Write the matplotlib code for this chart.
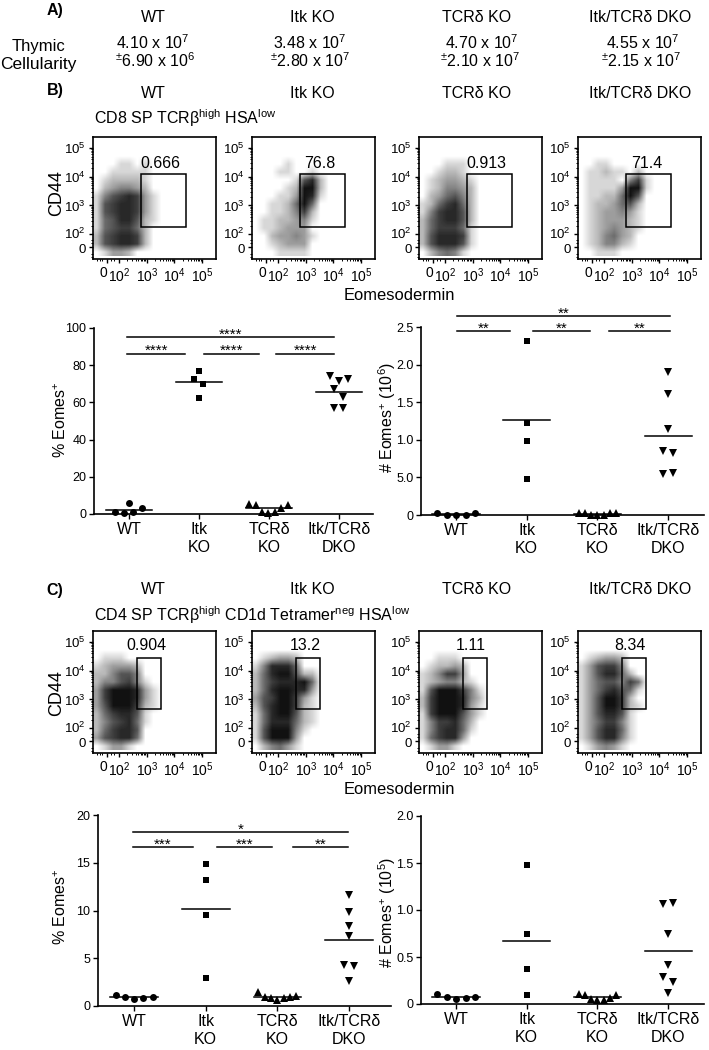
"""Thymic cellularity, Eomes flow plots and summary dot plots, panels A to C."""

import numpy as np
import matplotlib
matplotlib.use('Agg')
from matplotlib import pyplot as plt
from matplotlib.patches import Rectangle
from matplotlib.transforms import ScaledTranslation

plt.rcParams['font.family'] = ['Liberation Sans', 'DejaVu Sans']
plt.rcParams['mathtext.fontset'] = 'custom'
plt.rcParams['mathtext.rm'] = 'Liberation Sans'
plt.rcParams['mathtext.it'] = 'Liberation Sans'
plt.rcParams['mathtext.bf'] = 'Liberation Sans'
plt.rcParams['mathtext.default'] = 'regular'

W, H = 709, 1050

genotypes = ['WT', 'Itk KO', 'TCRδ KO', 'Itk/TCRδ DKO']
group_labels = ['WT', 'Itk\nKO', 'TCRδ\nKO', 'Itk/TCRδ\nDKO']
cellularity_mean = ['4.10 x 10$^{7}$', '3.48 x 10$^{7}$', '4.70 x 10$^{7}$', '4.55 x 10$^{7}$']
cellularity_sd = ['$^{\\pm}$6.90 x 10$^{6}$', '$^{\\pm}$2.80 x 10$^{7}$',
                  '$^{\\pm}$2.10 x 10$^{7}$', '$^{\\pm}$2.15 x 10$^{7}$']

# flow plots: darkness 0-9 of the dot cloud, read cell by cell (top row first)
cd8_wt = ['000000000000', '000000000000', '000000000000', '000110100000', '001111100000',
          '012222100000', '023443200000', '146787310000', '167887310000', '167887310000',
          '156886210000', '156775200000', '267887200000', '267887200000', '013320000000']
cd8_itk = ['000000000000', '000000000000', '000000000000', '000010000000', '000110010000',
           '000001682000', '000012992000', '000113981000', '001125950000', '001124720000',
           '011223410000', '011233300000', '002334310000', '001233300000', '000111100000']
cd8_tcr = ['000000000000', '000000000000', '000000000000', '000111000000', '001221000000',
           '012332100000', '012443200000', '023564200000', '125785200000', '147886200000',
           '257886200000', '257775100000', '268887100000', '268886100000', '024541000000']
cd8_dko = ['000000000000', '000000000000', '000000000000', '001100000000', '011211020000',
           '011110471000', '011113991000', '011225960000', '012235620000', '012334310000',
           '012333210000', '012343210000', '012453200000', '012442100000', '001110000000']
cd4_wt = ['000000000000', '000000000000', '000000000000', '011100000000', '123332000000',
          '224664000000', '244674100000', '379998310000', '379998310000', '369997210000',
          '257886100000', '246785100000', '257886000000', '367885000000', '013310000000']
cd4_itk = ['000000000000', '000000000000', '000000000000', '012332000000', '148885000000',
           '258996220000', '257888950000', '258998830000', '367997310000', '268997210000',
           '158996210000', '158885210000', '169994100000', '169993000000', '024531000000']
cd4_tcr = ['000000000000', '000000000000', '000000000000', '001110000000', '012232000000',
           '124773000000', '123442100000', '169997410000', '279998420000', '279998310000',
           '179996310000', '147785200000', '147885100000', '157883000000', '013310000000']
cd4_dko = ['000000000000', '000000000000', '000000000000', '012332000000', '136774000000',
           '136885200000', '135664750000', '135786510000', '136997200000', '136997210000',
           '136886100000', '135774100000', '136885100000', '136884100000', '013431000000']

gate_cd8 = ['0.666', '76.8', '0.913', '71.4']
gate_cd4 = ['0.904', '13.2', '1.11', '8.34']

# dot plots: values per genotype, then sideways offset of each dot, then mean
pct_cd8 = [[6.1, 0.9, 0.7, 0.9, 3.0],
           [76.7, 72.6, 70.0, 62.4],
           [5.2, 4.8, 1.2, 0.4, 1.0, 3.4, 4.8],
           [74.0, 71.5, 72.6, 67.2, 62.8, 56.9, 57.0]]
pct_cd8_dx = [[0, -.195, -.067, .062, .19],
              [0, -.067, .062, 0],
              [-.28, -.186, -.095, -.01, .086, .176, .267],
              [-.133, 0, .124, -.067, .062, -.067, .062]]
pct_cd8_mean = [2.15, 70.7, 3.4, 65.8]

num_cd8 = [[.03, .005, .005, .005, .02],
           [2.31, 1.23, 0.99, 0.48],
           [.03, .03, 0, 0, 0, .02, .03],
           [1.907, 1.606, 1.14, .85, .83, .54, .553]]
num_cd8_dx = [[-.264, -.132, 0, .137, .274],
              [0, 0, 0, 0],
              [-.264, -.179, -.09, 0, .09, .175, .264],
              [0, 0, 0, -.066, .066, -.066, .066]]
num_cd8_mean = [.01, 1.257, .013, 1.053]

pct_cd4 = [[1.12, .91, .73, .84, .98],
           [14.9, 13.2, 9.5, 2.94],
           [1.43, .98, .84, .59, .8, .91, 1.01],
           [11.6, 9.86, 8.36, 7.34, 4.34, 4.2, 2.66]]
pct_cd4_dx = [[-.256, -.126, 0, .13, .26],
              [0, 0, 0, 0],
              [-.265, -.177, -.088, 0, .088, .177, .265],
              [0, 0, 0, 0, -.065, .065, 0]]
pct_cd4_mean = [.91, 10.17, .98, 6.89]

num_cd4 = [[.103, .078, .053, .06, .078],
           [1.48, .745, .376, .092],
           [.106, .1, .05, .04, .043, .064, .096],
           [1.06, 1.07, .745, .415, .29, .234, .12]]
num_cd4_dx = [[-.264, -.132, 0, .137, .274],
              [0, 0, 0, 0],
              [-.264, -.179, -.09, 0, .09, .175, .264],
              [-.066, .066, 0, 0, -.066, .066, 0]]
num_cd4_mean = [.078, .674, .078, .56]

# significance bars: from, to, height
sig_pct_cd8 = [(-.024, 2.929, 95, '****'), (-.024, .8, 86.2, '****'),
               (1.067, 1.857, 86.2, '****'), (2.105, 2.929, 86.2, '****')]
sig_num_cd8 = [(.01, 3.03, 2.646, '**'), (.01, .77, 2.447, '**'),
               (1.085, 1.89, 2.447, '**'), (2.16, 3.03, 2.447, '**')]
sig_pct_cd4 = [(-.014, 2.98, 18.18, '*'), (-.014, .823, 16.6, '***'),
               (1.158, 1.926, 16.6, '***'), (2.223, 2.98, 16.6, '**')]

markers = ['o', 's', '^', 'v']
marker_sizes = [5, 5, 5.6, 5.6]
fig = plt.figure(figsize=(W / 100, H / 100), dpi=100)


def put(x, y, s, size=11.5, **kw):
    kw.setdefault('ha', 'center')
    kw.setdefault('va', 'center')
    fig.text(x / W, 1 - y / H, s, fontsize=size, **kw)


def axes_px(left, top, right, bottom):
    return fig.add_axes([left / W, 1 - bottom / H, (right - left) / W, (bottom - top) / H])


def nudge(label, dx, dy):
    label.set_transform(label.get_transform()
                        + ScaledTranslation(dx / 100, dy / 100, fig.dpi_scale_trans))


def flow(left, top, cells, gate, label):
    ax = axes_px(left, top, left + 123, top + 122)
    grid = np.array([[int(c) for c in row] for row in cells], dtype=float)
    ax.imshow((grid / 9) ** .8, cmap='gray_r', vmin=0, vmax=1.08, interpolation='bilinear',
              aspect='auto', extent=[1.06, 1.06 + 12 * 8 / 27.7, 5.38 - 15 * 8 / 29, 5.38],
              zorder=1)
    ax.set_xlim(1.06, 5.5)
    ax.set_ylim(1.14, 5.38)
    ax.add_patch(Rectangle((gate[0], gate[2]), gate[1] - gate[0], gate[3] - gate[2],
                           fill=False, ec='k', lw=1.1, zorder=3))
    minor = [d + np.log10(k) for d in [2, 3, 4] for k in range(2, 10)]
    ax.set_xticks([1.57, 2, 3, 4, 5])
    ax.set_xticklabels(['0', '$10^{2}$', '$10^{3}$', '$10^{4}$', '$10^{5}$'], fontsize=10)
    ax.set_yticks([1.55, 2, 3, 4, 5])
    ax.set_yticklabels(['0', '$10^{2}$', '$10^{3}$', '$10^{4}$', '$10^{5}$'], fontsize=9.5)
    ax.set_xticks(minor + [1.2, 1.3, 1.4, 1.7, 1.8], minor=True)
    ax.set_yticks(minor + [1.2, 1.3, 1.7, 1.8], minor=True)
    ax.tick_params(which='major', length=3, width=1, pad=2)
    ax.tick_params(which='minor', length=1.5, width=0.7)
    # the 0 and 10^2 labels nearly touch in the original
    nudge(ax.get_xticklabels()[0], -4, 0)
    ax.get_xticklabels()[1].set_ha('left')
    nudge(ax.get_xticklabels()[1], -11.5, 0)
    nudge(ax.get_yticklabels()[0], 0, -1.5)
    nudge(ax.get_yticklabels()[1], 0, 1)
    for s in ax.spines.values():
        s.set_linewidth(1.2)
    ax.text(label[0], label[1], label[2], fontsize=11.5, ha='center', va='center', zorder=4)


def dots(box, c0, step, vals, dx, means, ymax, yticks, yticklabels, sig=()):
    left, top, right, bottom = box
    ax = axes_px(left, top, right, bottom)
    ax.set_xlim((left - c0) / step, (right - c0) / step)
    ax.set_ylim(0, ymax)
    for i in range(4):
        ax.plot([i + d for d in dx[i]], vals[i], ls='none', marker=markers[i], color='k',
                ms=marker_sizes[i], mew=0, clip_on=False, zorder=3)
        ax.plot([i - .333, i + .333], [means[i], means[i]], color='k', lw=1.1,
                clip_on=False, zorder=4)
    for x0, x1, y, stars in sig:
        ax.plot([x0, x1], [y, y], color='k', lw=1.1, clip_on=False)
        ax.annotate(stars, ((x0 + x1) / 2, y), xytext=(0, -1), textcoords='offset points',
                    fontsize=11, ha='center', va='baseline', annotation_clip=False)
    ax.spines['top'].set_visible(False)
    ax.spines['right'].set_visible(False)
    ax.spines['left'].set_linewidth(1.2)
    ax.spines['bottom'].set_linewidth(1.2)
    ax.set_xticks(range(4))
    ax.set_xticklabels(group_labels, fontsize=11.5, linespacing=1.3)
    ax.set_yticks(yticks)
    ax.set_yticklabels(yticklabels, fontsize=9)
    ax.tick_params(length=3.5, width=1, pad=2)
    ax.patch.set_alpha(0)


def main():
    """Panels are placed by pixel to follow the original layout."""
    head_x = [153, 312, 477, 640]
    put(55, 10, 'A)', weight='bold')
    put(38, 46, 'Thymic', size=12)
    put(38, 64, 'Cellularity', size=12.5)
    for i in range(4):
        put(head_x[i], 17, genotypes[i])
        put([153, 310, 482, 643][i], 43, cellularity_mean[i], size=11.5)
        put([155, 310, 480, 641][i], 61, cellularity_sd[i], size=11.5)
        put(head_x[i], 94, genotypes[i])
        put(head_x[i], 590, genotypes[i])

    put(55, 90, 'B)', weight='bold')
    put(94, 118, 'CD8 SP TCRβ$^{high}$ HSA$^{low}$', ha='left')
    put(57, 193, 'CD44', size=13, rotation=90)
    put(399, 296, 'Eomesodermin', size=11.9)
    put(55, 590, 'C)', weight='bold')
    put(94, 615, 'CD4 SP TCRβ$^{high}$ CD1d Tetramer$^{neg}$ HSA$^{low}$', ha='left')
    put(57, 693, 'CD44', size=13, rotation=90)
    put(399, 789, 'Eomesodermin', size=11.9)

    flow_left = [93, 252, 419, 578]
    gate8 = (2.79, 4.42, 2.24, 4.10)
    gate4 = (2.65, 3.52, 2.66, 4.45)
    for i, cells in enumerate([cd8_wt, cd8_itk, cd8_tcr, cd8_dko]):
        xlab = [3.48, 3.52, 3.51, 3.54][i]
        flow(flow_left[i], 137, cells, gate8, (xlab, 4.46, gate_cd8[i]))
    for i, cells in enumerate([cd4_wt, cd4_itk, cd4_tcr, cd4_dko]):
        xlab = [2.98, 3.0, 2.93, 2.95][i]
        flow(flow_left[i], 631, cells, gate4, (xlab, 4.87, gate_cd4[i]))

    dots((94, 328, 373, 514), 129, 70, pct_cd8, pct_cd8_dx, pct_cd8_mean, 100,
         [0, 20, 40, 60, 80, 100], ['0', '20', '40', '60', '80', '100'], sig_pct_cd8)
    dots((421, 327, 704, 515), 456, 70.7, num_cd8, num_cd8_dx, num_cd8_mean, 2.5,
         [0, .5, 1, 1.5, 2, 2.5], ['0', '5.0', '1.0', '1.5', '2.0', '2.5'], sig_num_cd8)
    dots((98, 815, 391, 1006), 134, 71.7, pct_cd4, pct_cd4_dx, pct_cd4_mean, 20,
         [0, 5, 10, 15, 20], ['0', '5', '10', '15', '20'], sig_pct_cd4)
    dots((421, 816, 704, 1004), 456, 70.7, num_cd4, num_cd4_dx, num_cd4_mean, 2,
         [0, .5, 1, 1.5, 2], ['0', '0.5', '1.0', '1.5', '2.0'])

    put(61, 420, '% Eomes$^{+}$', size=11.5, rotation=90)
    put(387, 417, '# Eomes$^{+}$ (10$^{6}$)', size=11.5, rotation=90)
    put(61, 907, '% Eomes$^{+}$', size=11.5, rotation=90)
    put(387, 912, '# Eomes$^{+}$ (10$^{5}$)', size=11.5, rotation=90)

    fig.savefig('out.png', dpi=100)


if __name__ == "__main__":
    main()
